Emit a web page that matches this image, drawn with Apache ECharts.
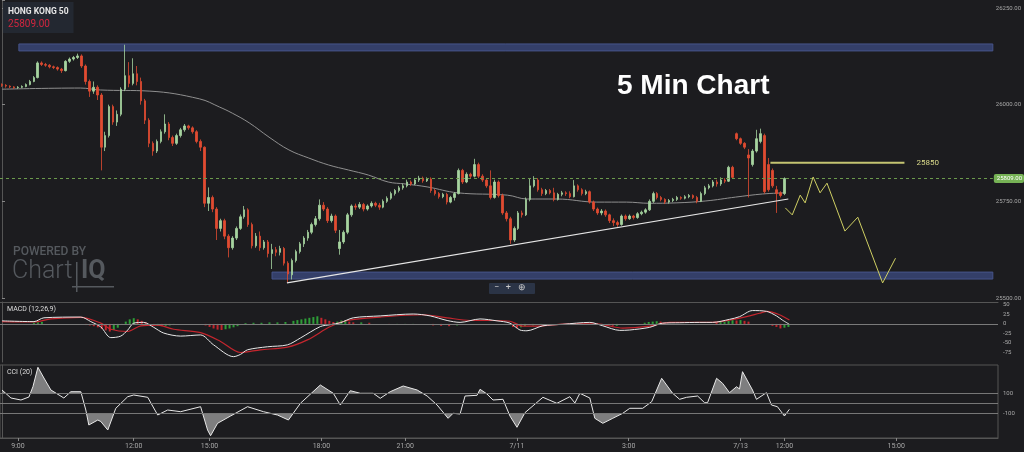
<!DOCTYPE html>
<html>
<head>
<meta charset="utf-8">
<title>HONG KONG 50 - 5 Min Chart</title>
<style>
  html, body { margin: 0; padding: 0; background: #1c1c1f; }
  #main { width: 1024px; height: 452px; }
</style>
<script src="https://cdn.jsdelivr.net/npm/echarts@6/dist/echarts.min.js"></script>
</head>
<body>
<div id="main"></div>
<script>
var SLOTS = 250;

// x axis labels (slot index -> text)
var tickIdx  = [4, 33, 52, 80, 101, 129, 157, 185, 196, 224];
var tickText = ['9:00', '12:00', '15:00', '18:00', '21:00', '7/11', '3:00', '7/13', '12:00', '15:00'];

// [open, close, low, high]
var candles = [
  [26052,26050,26046,26055],[26050,26048,26044,26053],[26048,26046,26043,26050],[26046,26044,26041,26048],[26044,26045,26041,26048],
  [26045,26047,26043,26050],[26047,26052,26045,26055],[26052,26060,26050,26064],[26060,26070,26058,26074],[26070,26108,26068,26112],
  [26108,26104,26100,26112],[26104,26102,26098,26108],[26102,26098,26094,26105],[26098,26096,26092,26101],[26096,26092,26088,26099],
  [26092,26088,26082,26095],[26088,26112,26086,26115],[26112,26118,26108,26122],[26118,26122,26114,26126],[26122,26126,26118,26132],
  [26126,26100,26095,26130],[26100,26060,26052,26104],[26060,26035,26020,26065],[26035,26045,26028,26060],[26045,26025,26012,26050],
  [26025,25890,25830,26030],[25890,25920,25880,25930],[25920,25995,25915,26000],[25995,25955,25948,26000],[25955,25975,25945,25985],
  [25975,26040,25970,26045],[26040,26075,26035,26155],[26075,26055,26045,26110],[26055,26080,26050,26120],[26080,26060,26050,26100],
  [26060,26010,26000,26070],[26010,25960,25950,26015],[25960,25900,25890,25965],[25900,25880,25868,25905],[25880,25905,25875,25910],
  [25905,25930,25900,25936],[25930,25950,25925,25975],[25950,25915,25908,25955],[25915,25900,25893,25920],[25900,25920,25896,25925],
  [25920,25935,25915,25940],[25935,25945,25930,25950],[25945,25940,25935,25948],[25940,25930,25925,25944],[25930,25905,25900,25934],
  [25905,25890,25880,25910],[25890,25745,25735,25892],[25745,25760,25725,25786],[25760,25730,25722,25765],[25730,25680,25650,25735],
  [25680,25700,25672,25705],[25700,25660,25652,25705],[25660,25630,25605,25665],[25630,25655,25625,25660],[25655,25680,25650,25685],
  [25680,25710,25676,25716],[25710,25728,25705,25738],[25728,25690,25684,25732],[25690,25635,25628,25695],[25635,25660,25630,25668],
  [25660,25630,25622,25672],[25630,25645,25625,25650],[25645,25615,25605,25650],[25615,25625,25575,25640],[25625,25618,25608,25632],
  [25618,25628,25610,25635],[25628,25590,25584,25632],[25590,25562,25541,25595],[25560,25597,25548,25602],[25597,25620,25592,25625],
  [25620,25640,25615,25645],[25640,25655,25632,25660],[25655,25670,25648,25676],[25670,25690,25665,25695],[25690,25705,25685,25712],
  [25705,25740,25700,25755],[25740,25730,25725,25748],[25730,25700,25694,25735],[25700,25712,25695,25718],[25712,25675,25668,25716],
  [25628,25645,25612,25676],[25645,25670,25640,25675],[25670,25715,25665,25720],[25715,25738,25710,25742],[25738,25735,25728,25744],
  [25735,25742,25730,25748],[25742,25730,25724,25746],[25730,25738,25726,25742],[25738,25745,25734,25750],[25745,25740,25735,25749],
  [25740,25735,25728,25746],[25735,25750,25732,25755],[25750,25758,25746,25763],[25758,25770,25754,25775],[25770,25778,25765,25782],
  [25778,25785,25773,25790],[25785,25790,25780,25796],[25790,25800,25786,25806],[25800,25795,25790,25804],[25795,25805,25792,25810],
  [25805,25810,25800,25816],[25810,25803,25798,25814],[25803,25808,25800,25812],[25808,25778,25772,25812],[25778,25770,25765,25782],
  [25770,25762,25757,25774],[25762,25768,25758,25772],[25768,25748,25742,25772],[25748,25760,25745,25764],[25760,25770,25752,25774],
  [25770,25830,25768,25835],[25830,25800,25795,25834],[25800,25820,25797,25825],[25820,25815,25810,25824],[25815,25845,25812,25860],
  [25845,25815,25810,25850],[25815,25805,25800,25820],[25805,25790,25785,25810],[25790,25760,25755,25830],[25760,25800,25757,25806],
  [25800,25765,25760,25804],[25765,25720,25715,25770],[25720,25705,25698,25725],[25705,25650,25640,25710],[25650,25680,25645,25685],
  [25680,25720,25676,25725],[25720,25715,25708,25726],[25715,25755,25712,25760],[25755,25790,25750,25810],[25790,25805,25786,25815],
  [25805,25780,25775,25810],[25780,25770,25764,25785],[25770,25778,25766,25782],[25778,25772,25768,25782],[25772,25755,25750,25785],
  [25755,25768,25752,25772],[25768,25772,25763,25777],[25772,25770,25764,25776],[25770,25762,25758,25776],[25762,25790,25760,25805],
  [25790,25780,25775,25794],[25780,25770,25765,25784],[25770,25775,25766,25780],[25775,25748,25744,25778],[25748,25730,25725,25752],
  [25730,25720,25715,25734],[25720,25725,25714,25730],[25725,25715,25710,25729],[25715,25700,25694,25718],[25700,25695,25686,25706],
  [25695,25690,25684,25700],[25690,25712,25687,25716],[25712,25705,25700,25716],[25705,25712,25702,25716],[25712,25708,25703,25715],
  [25708,25718,25705,25722],[25718,25722,25714,25726],[25722,25728,25718,25732],[25728,25750,25725,25755],[25750,25770,25746,25775],
  [25770,25760,25755,25774],[25760,25755,25750,25764],[25755,25748,25743,25758],[25748,25752,25744,25756],[25752,25755,25748,25759],
  [25755,25760,25751,25764],[25760,25758,25754,25763],[25758,25762,25755,25766],[25762,25765,25758,25769],[25765,25760,25756,25768],
  [25760,25750,25745,25764],[25750,25770,25748,25775],[25770,25785,25766,25790],[25785,25790,25781,25795],[25790,25800,25786,25805],
  [25800,25795,25788,25806],[25795,25805,25790,25812],[25805,25802,25797,25810],[25802,25838,25800,25842],[25838,25812,25808,25842],
  [25925,25912,25908,25928],[25912,25900,25896,25915],[25900,25890,25885,25903],[25870,25862,25760,25885],[25845,25880,25840,25885],
  [25880,25912,25876,25935],[25905,25925,25900,25938],[25920,25775,25770,25925],[25845,25780,25775,25862],[25830,25790,25785,25835],
  [25780,25770,25720,25790],[25772,25765,25760,25776],[25770,25809,25766,25812]
];

// grey moving average [slot, price]
var maLine = [
  [0,26040],[19.75,26043],[24.75,26038],[37.25,26035],[49.75,26015],[54.75,25994],[58,25978],[62.25,25953],
  [67.25,25916],[72.25,25883],[77.25,25862],[82.25,25844],[87.25,25831],[92.25,25818],[97.25,25800],[101.5,25795],
  [107.25,25787],[114.75,25772],[127.25,25766],[132.25,25756],[139.75,25756],[149.75,25748],[157.25,25748],
  [163,25745],[169.75,25746],[177.25,25751],[184.75,25761],[191.5,25769],[197.25,25772]
];

var trendLine = [[71.75,25539],[198,25756]];

var forecast = [
  [197.25,25733],[199,25715],[201,25766],[202.25,25746],[204.25,25813],[206,25772],
  [207.75,25797],[212.25,25673],[215.5,25709],[221.75,25539],[225,25603]
];

var lastPrice = 25809;
var targetLevel = 25850;
var targetSpan = [193.5, 227.25];
var topZone = [26139, 26157];
var topZoneStart = 4.25;
var bottomZone = [25549, 25567];
var bottomZoneStart = 68;

// MACD (12,26,9)
var macdLine = [
  [0,8],[8,6],[10.5,16],[19.75,18],[22.25,6],[24.75,-8],[27.25,-36],[29.75,-32],[31.5,-16],[33,2],
  [35.5,4],[38,-9],[40.5,-24],[44.75,-32],[49.75,-29],[53,-55],[58,-86],[59.75,-80],[61.5,-68],
  [66.5,-60],[71.5,-55],[74.75,-37],[79.75,-7],[82.25,-2],[84.75,3],[88,16],[94.75,21],[103,26],
  [107.25,21],[111.5,9],[114.75,4],[119.75,13],[124,8],[127.25,2],[129.75,-16],[131.5,-18],[135.5,-5],
  [140.5,-1],[147.25,4],[150.5,-5],[154.75,-17],[157.25,-16],[162.25,-9],[165.5,2],[169.75,3],
  [174.75,4],[178,4],[182.25,12],[184.75,19],[188,35],[191.5,33],[194,21],[195.5,10],[197.25,-1]
];
var signalLine = [
  [0,6],[8,5],[12.25,13],[19.75,17],[24.75,2],[27.25,-14],[31.5,-20],[34.75,-5],[39,-3],[43,-14],
  [49.75,-23],[54.75,-46],[59.75,-75],[64.75,-68],[71.5,-61],[76.5,-42],[82.25,-7],[86.5,9],[94.75,18],
  [105.5,24],[111.5,16],[117.25,9],[123,9],[127.25,7],[130.5,-6],[135.5,-5],[142.25,0],[149,0],
  [155.5,-11],[162.25,-6],[167.25,4],[174.75,4],[178,4],[182.25,10],[186.5,19],[189.75,28],
  [191.75,33],[194.75,24],[197.25,10]
];
var macdHist = [
  [8,3],[9,4],[10,5],[21,-3],[22,-4],[23,-6],[24,-9],[25,-13],[26,-17],[27,-20],[28,-16],[29,-10],
  [30,-2],[31,6],[32,12],[33,15],[34,12],[35,8],[36,4],[37,-3],[38,-5],[39,-5],[40,-6],[41,-5],
  [42,-4],[43,-3],[51,-4],[52,-8],[53,-12],[54,-15],[55,-16],[56,-14],[57,-12],[58,-9],[59,-6],
  [61,2],[63,3],[65,3],[67,4],[69,4],[71,5],[73,8],[74,10],[75,12],[76,14],[77,16],[78,18],[79,20],
  [80,16],[81,12],[82,8],[83,5],[84,6],[85,9],[86,10],[87,6],[88,4],[90,4],[92,3],[97,-2],[99,-2],
  [101,-2],[103,-2],[108,-4],[110,-5],[112,-6],[114,-4],[128,-8],[129,-11],[130,-9],[131,-6],
  [133,-4],[135,-2],[152,-4],[153,-5],[154,-5],[161,3],[162,5],[163,6],[164,7],[165,6],[179,4],
  [180,5],[181,6],[182,8],[183,10],[184,9],[185,10],[186,8],[187,6],[193,-5],[194,-8],[195,-12],
  [196,-10],[197,-8]
];

// CCI (20)
var cciLine = [
  [0,130],[2.25,50],[4.75,30],[6.75,60],[7.75,163],[9,357],[10.5,250],[12.25,130],[15.5,50],[17.25,113],
  [19.75,113],[21,-70],[21.75,-220],[24,-170],[24.75,-185],[26.5,-270],[28.5,-53],[31.5,63],[33,80],
  [36.5,57],[39,-120],[41.5,-70],[44.75,-87],[49.75,-37],[51.5,-270],[52.25,-327],[54,-203],[57.25,-130],
  [61.5,-37],[65.5,-87],[69,-120],[71.75,-170],[74.75,-3],[79.75,180],[83,97],[84.75,-20],[87.25,123],
  [89.75,97],[93,97],[94.75,47],[97.25,113],[100.5,170],[104,130],[106.5,70],[109,-20],[111.75,-153],
  [113,-103],[114.75,-110],[116,70],[119,77],[119.75,137],[121.5,90],[123,30],[125.5,37],[127.25,-130],
  [129,-243],[131,-97],[135.5,57],[139,-3],[142.25,63],[143.5,0],[144.75,97],[147.25,50],[148.5,-153],
  [150.5,-203],[153,-153],[155.5,-103],[157.25,-53],[160.5,-53],[162.75,13],[165.25,247],[168,97],
  [169.75,37],[171.5,57],[174.25,70],[176,3],[176.75,3],[179,247],[180.5,197],[182.25,103],[184,163],
  [184.75,140],[185.5,313],[188,130],[189,37],[191.5,103],[192.75,-20],[194.25,-37],[196,-130],[197.25,-63]
];
var cciBand = [100, -100];

var UP = '#a6d49f', DOWN = '#e14b31';
var AXIS = '#555', LABEL = '#a8a8a8';
var FONT = 'Roboto, "Noto Sans", sans-serif';

var categories = [];
for (var k = 0; k < SLOTS; k++) categories.push('');
tickIdx.forEach(function (t, n) { categories[t] = tickText[n]; });
function isTick(index) { return tickIdx.indexOf(index) >= 0; }

function slotAxis(grid, extra) {
  var ax = { type: 'value', gridIndex: grid, min: -0.5, max: SLOTS - 0.5, show: false };
  return Object.assign(ax, extra || {});
}

var myChart = echarts.init(document.getElementById('main'));

var option = {
  backgroundColor: '#1c1c1f',
  animation: false,
  textStyle: { fontFamily: FONT },
  title: [
    {
      text: 'HONG KONG 50', subtext: lastPrice.toFixed(2),
      left: 3, top: 2, padding: [5, 5, 4, 5], itemGap: 3,
      backgroundColor: '#232831',
      textStyle: { color: '#e6e6e6', fontSize: 8.5, fontWeight: 'bold', fontFamily: FONT },
      subtextStyle: { color: '#d2263f', fontSize: 10, fontFamily: FONT }
    },
    {
      text: '5 Min Chart', left: 617, top: 72, padding: 0,
      textStyle: { color: '#ffffff', fontSize: 28, fontWeight: 'bold', fontFamily: '"Liberation Sans", Arial, sans-serif' }
    },
    {
      text: 'MACD (12,26,9)', left: 7, top: 306, padding: 0,
      textStyle: { color: '#dddddd', fontSize: 7, fontWeight: 'normal', fontFamily: FONT }
    },
    {
      text: 'CCI (20)', left: 7, top: 369, padding: 0,
      textStyle: { color: '#dddddd', fontSize: 7, fontWeight: 'normal', fontFamily: FONT }
    }
  ],
  graphic: [
    { type: 'text', left: 13, top: 246, style: { text: 'POWERED BY', fill: '#55595e', font: '500 12px Roboto' } },
    { type: 'text', left: 12, top: 259, style: { text: 'Chart', fill: '#55595e', font: '300 25px Roboto' } },
    { type: 'text', left: 81, top: 259, style: { text: 'IQ', fill: '#55595e', font: 'bold 25px Roboto' } },
    { type: 'rect', left: 76, top: 262, shape: { width: 1.5, height: 30 }, style: { fill: '#55595e' } },
    { type: 'rect', left: 72, top: 286, shape: { width: 42, height: 1.5 }, style: { fill: '#55595e' } },
    { type: 'rect', left: 489, top: 283, shape: { width: 46, height: 11, r: 1 }, style: { fill: '#2b3446' } },
    { type: 'text', left: 494, top: 283, style: { text: '\u2212   +   \u2295', fill: '#c8c8c8', font: '9px Roboto' } }
  ],
  grid: [
    { left: -1, right: 26, top: 0, height: 298 },
    { left: -1, right: 26, top: 302, height: 60 },
    { left: -1, right: 26, top: 365, height: 73, show: true, borderColor: AXIS, borderWidth: 1 },
    // clip boxes for the CCI shading above +100 and below -100
    { left: -1, right: 26, top: 365, height: 28 },
    { left: -1, right: 26, top: 413, height: 25 }
  ],
  xAxis: [
    { type: 'category', gridIndex: 0, data: categories, show: false },
    slotAxis(0),
    slotAxis(1, {
      show: true, position: 'top',
      axisLine: { show: true, onZero: false, lineStyle: { color: AXIS } },
      axisTick: { show: false }, axisLabel: { show: false }, splitLine: { show: false }
    }),
    slotAxis(2),
    {
      type: 'category', gridIndex: 2, data: categories, position: 'bottom',
      axisLine: { show: true, lineStyle: { color: AXIS } },
      axisTick: { show: true, length: 3, alignWithLabel: true, interval: isTick, lineStyle: { color: '#888' } },
      axisLabel: { show: true, interval: isTick, color: LABEL, fontSize: 7, margin: 5, fontFamily: FONT },
      splitLine: { show: false }
    },
    slotAxis(3),
    slotAxis(4)
  ],
  yAxis: [
    {
      type: 'value', gridIndex: 0, position: 'right', min: 25500, max: 26270.7, interval: 250,
      axisLine: { show: true, lineStyle: { color: AXIS } },
      axisTick: { show: true, length: 3, lineStyle: { color: '#888' } },
      axisLabel: {
        color: LABEL, fontSize: 6, margin: 3, fontFamily: FONT,
        formatter: function (v) { return v % 250 === 0 ? v.toFixed(2) : ''; }
      },
      splitLine: { show: false }
    },
    {
      type: 'value', gridIndex: 1, position: 'right', min: -100, max: 57.5, interval: 25,
      axisLine: { show: true, lineStyle: { color: AXIS } },
      axisTick: { show: false },
      axisLabel: {
        color: LABEL, fontSize: 6, margin: 5, fontFamily: FONT,
        formatter: function (v) { return (v >= -75 && v <= 50 && v % 25 === 0) ? String(v) : ''; }
      },
      splitLine: { show: false }
    },
    {
      type: 'value', gridIndex: 2, position: 'right', min: -350, max: 380, interval: 50,
      axisLine: { show: true, lineStyle: { color: AXIS } },
      axisTick: { show: false },
      axisLabel: {
        color: LABEL, fontSize: 6, margin: 5, fontFamily: FONT,
        formatter: function (v) { return (v === 100 || v === -100) ? String(v) : ''; }
      },
      splitLine: { show: false }
    },
    { type: 'value', gridIndex: 3, min: cciBand[0], max: 380, show: false },
    { type: 'value', gridIndex: 4, min: -350, max: cciBand[1], show: false }
  ],
  series: [
    {
      name: 'HONG KONG 50', type: 'candlestick', xAxisIndex: 0, yAxisIndex: 0, z: 4,
      data: candles, barWidth: 2,
      itemStyle: { color: UP, color0: DOWN, borderColor: UP, borderColor0: DOWN, borderWidth: 0.8 },
      markLine: {
        silent: true, symbol: ['none', 'none'],
        data: [{ yAxis: lastPrice }],
        lineStyle: { color: '#6b9a4c', type: [3, 3], width: 1 },
        label: {
          position: 'end', distance: 1, formatter: lastPrice.toFixed(2),
          color: '#ffffff', backgroundColor: '#76b255', padding: [2, 2, 1, 3], borderRadius: 2,
          fontSize: 6, fontFamily: FONT
        }
      }
    },
    {
      name: 'MA', type: 'line', xAxisIndex: 1, yAxisIndex: 0, z: 3,
      data: maLine, smooth: 0.4, symbol: 'none',
      lineStyle: { color: '#8f8f8f', width: 1 },
      markArea: {
        silent: true,
        itemStyle: { color: '#343f69', borderColor: '#46548a', borderWidth: 1 },
        data: [
          [{ coord: [topZoneStart, topZone[1]] }, { coord: [SLOTS - 0.5, topZone[0]] }],
          [{ coord: [bottomZoneStart, bottomZone[1]] }, { coord: [SLOTS - 0.5, bottomZone[0]] }]
        ]
      }
    },
    {
      name: 'Trend', type: 'line', xAxisIndex: 1, yAxisIndex: 0, z: 5,
      data: trendLine, symbol: 'none',
      lineStyle: { color: '#e6e6e6', width: 1.2 }
    },
    {
      name: 'Forecast', type: 'line', xAxisIndex: 1, yAxisIndex: 0, z: 5,
      data: forecast, symbol: 'none',
      lineStyle: { color: '#cfcf63', width: 1 }
    },
    {
      name: 'Target', type: 'line', xAxisIndex: 1, yAxisIndex: 0, z: 5,
      data: [[targetSpan[0], targetLevel], [targetSpan[1], targetLevel]], symbol: 'none',
      lineStyle: { color: '#c4c472', width: 2 },
      endLabel: { show: true, formatter: String(targetLevel), color: '#d9d98a', fontSize: 8, distance: 12, fontFamily: FONT }
    },
    {
      name: 'Histogram', type: 'bar', xAxisIndex: 2, yAxisIndex: 1,
      data: macdHist, barWidth: 2,
      itemStyle: {
        color: function (p) {
          var k = p.dataIndex;
          var prev = k > 0 ? macdHist[k - 1][1] : 0;
          return macdHist[k][1] >= prev ? '#2e9e38' : '#c1252d';
        }
      }
    },
    {
      name: 'MACD', type: 'line', xAxisIndex: 2, yAxisIndex: 1, z: 4,
      data: macdLine, smooth: 0.3, symbol: 'none',
      lineStyle: { color: '#e8e8e8', width: 1 },
      markLine: {
        silent: true, symbol: ['none', 'none'], label: { show: false },
        data: [{ yAxis: 0 }],
        lineStyle: { color: '#7a7a7a', type: 'solid', width: 1 }
      }
    },
    {
      name: 'Signal', type: 'line', xAxisIndex: 2, yAxisIndex: 1, z: 3,
      data: signalLine, smooth: 0.3, symbol: 'none',
      lineStyle: { color: '#c4262e', width: 1.2 }
    },
    {
      name: 'CCI', type: 'line', xAxisIndex: 3, yAxisIndex: 2, z: 4,
      data: cciLine, symbol: 'none',
      lineStyle: { color: '#e8e8e8', width: 1 },
      markLine: {
        silent: true, symbol: ['none', 'none'], label: { show: false },
        data: [{ yAxis: cciBand[0] }, { yAxis: 0 }, { yAxis: cciBand[1] }],
        lineStyle: { color: '#777777', type: 'solid', width: 1 }
      }
    },
    {
      name: 'CCI over', type: 'line', xAxisIndex: 5, yAxisIndex: 3, z: 2,
      data: cciLine, symbol: 'none', silent: true, clip: true,
      lineStyle: { width: 0, opacity: 0 },
      areaStyle: { origin: 'start', color: '#8a8a8a', opacity: 0.9 }
    },
    {
      name: 'CCI under', type: 'line', xAxisIndex: 6, yAxisIndex: 4, z: 2,
      data: cciLine, symbol: 'none', silent: true, clip: true,
      lineStyle: { width: 0, opacity: 0 },
      areaStyle: { origin: 'end', color: '#8a8a8a', opacity: 0.9 }
    }
  ]
};

myChart.setOption(option);
</script>
</body>
</html>
